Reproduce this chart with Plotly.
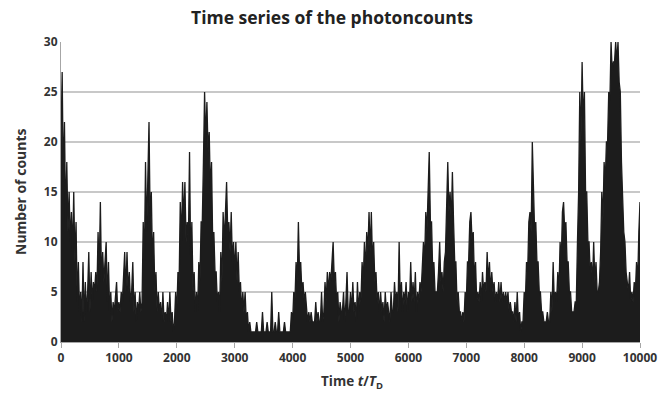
import plotly.graph_objects as go

# Photon counts sampled every 20 time units (t / T_D), one row per 500 units
step = 20
counts_rows = [
    [20, 27, 16, 22, 12, 18, 11, 15, 10, 13, 9, 15, 8, 12, 4, 8, 3, 5, 2, 8, 2, 6, 3, 5, 9],
    [3, 7, 4, 6, 5, 7, 5, 11, 7, 14, 6, 9, 6, 8, 10, 4, 8, 3, 5, 2, 4, 3, 5, 6, 3],
    [4, 3, 5, 4, 7, 9, 5, 9, 5, 7, 4, 5, 8, 3, 5, 2, 4, 3, 5, 3, 4, 12, 8, 18, 11],
    [18, 22, 12, 15, 8, 11, 5, 7, 3, 5, 3, 4, 2, 5, 2, 3, 2, 4, 2, 5, 2, 3, 1, 2, 5],
    [3, 7, 6, 14, 10, 16, 12, 16, 10, 12, 10, 19, 8, 12, 5, 7, 3, 5, 3, 8, 6, 12, 12, 18, 25],
    [20, 24, 19, 21, 15, 18, 10, 11, 7, 7, 4, 5, 3, 9, 6, 13, 10, 13, 16, 11, 12, 9, 13, 8, 10],
    [7, 10, 6, 9, 5, 6, 3, 5, 3, 5, 2, 3, 1, 2, 1, 1, 1, 1, 1, 2, 1, 1, 1, 1, 3],
    [1, 1, 1, 2, 1, 1, 1, 5, 1, 1, 2, 1, 1, 3, 1, 1, 1, 1, 2, 1, 1, 1, 1, 1, 3],
    [2, 5, 4, 8, 6, 12, 7, 8, 5, 6, 4, 5, 3, 2, 3, 2, 3, 2, 2, 2, 4, 2, 3, 2, 2],
    [5, 2, 3, 6, 4, 7, 5, 7, 6, 8, 10, 6, 7, 4, 5, 2, 4, 3, 3, 5, 2, 4, 7, 3, 3],
    [5, 3, 6, 3, 4, 2, 6, 3, 5, 4, 8, 6, 10, 7, 11, 9, 13, 9, 13, 8, 10, 6, 7, 4, 5],
    [3, 5, 3, 4, 2, 5, 3, 4, 3, 2, 5, 3, 3, 6, 4, 5, 3, 10, 4, 6, 3, 5, 4, 6, 3],
    [5, 4, 8, 4, 6, 4, 7, 3, 5, 4, 6, 5, 8, 10, 8, 13, 11, 16, 19, 12, 12, 7, 8, 5, 5],
    [5, 7, 10, 6, 7, 5, 8, 9, 15, 18, 13, 15, 12, 17, 12, 8, 8, 4, 5, 3, 3, 2, 3, 2, 5],
    [4, 8, 8, 12, 13, 10, 11, 6, 8, 4, 5, 4, 6, 4, 7, 5, 6, 5, 9, 6, 8, 5, 7, 5, 6],
    [4, 5, 4, 6, 4, 6, 4, 5, 4, 5, 4, 5, 3, 4, 3, 3, 2, 4, 2, 5, 2, 3, 1, 2, 2],
    [5, 4, 8, 7, 12, 13, 11, 20, 14, 11, 12, 8, 8, 5, 5, 3, 3, 2, 2, 2, 3, 2, 2, 5, 3],
    [8, 4, 5, 4, 7, 5, 10, 8, 13, 14, 11, 12, 8, 8, 5, 5, 3, 3, 3, 4, 4, 10, 15, 25, 20],
    [28, 22, 25, 15, 15, 10, 10, 7, 8, 6, 10, 6, 8, 5, 5, 6, 9, 15, 12, 18, 16, 20, 20, 25, 24],
    [30, 27, 28, 28, 30, 28, 30, 26, 25, 18, 15, 11, 10, 7, 6, 5, 7, 4, 5, 4, 6, 5, 8, 6, 11],
]
last_count = 14

counts = [c for row in counts_rows for c in row] + [last_count]
times = [i * step for i in range(len(counts))]

x_ticks = [0, 1000, 2000, 3000, 4000, 5000, 6000, 7000, 8000, 9000, 10000]
y_ticks = [0, 5, 10, 15, 20, 25, 30]

font_family = "Open Sans, Liberation Sans, Arial, sans-serif"

# plot-area edges in pixels
L, R, T, B = 61, 640, 42, 342
W, H = 658, 397

fig = go.Figure()
# the count trace is so dense that it reads as a dark mass down to zero
fig.add_trace(go.Scatter(
    x=times, y=counts, mode="lines",
    line=dict(color="#1c1c1c", width=1.3),
    fill="tozeroy", fillcolor="#1c1c1c",
    hoverinfo="x+y", showlegend=False,
))

fig.update_layout(
    width=W, height=H,
    margin=dict(l=L, r=W - R, t=T, b=H - B),
    paper_bgcolor="white", plot_bgcolor="white",
    font=dict(family=font_family, color="#333333"),
    showlegend=False,
)

fig.update_xaxes(
    range=[0, 10000], tickvals=x_ticks, ticktext=[f"<b>{v}</b>" for v in x_ticks],
    showgrid=False, zeroline=False, automargin=False,
    showline=True, linecolor="#a6a6a6", linewidth=1,
    ticks="outside", ticklen=5, tickcolor="#a6a6a6",
    tickfont=dict(size=12, color="#333333"),
)
fig.update_yaxes(
    range=[0, 30], tickvals=y_ticks, ticktext=[f"<b>{v}</b>" for v in y_ticks],
    showgrid=True, gridcolor="#c8c8c8", gridwidth=1.5,
    zeroline=False, showline=True, linecolor="#a6a6a6", linewidth=1,
    ticks="", automargin=False, tickfont=dict(size=12, color="#333333"),
)

title_text = "<b>Time series of the photoncounts</b>"
fig.add_annotation(
    text=title_text,
    xref="paper", yref="paper", x=(332 - L) / (R - L), y=1.0, yshift=25,
    xanchor="center", yanchor="middle", showarrow=False,
    font=dict(size=17.5, color="#222222", family=font_family),
)
fig.add_annotation(
    text="<b>Number of counts</b>",
    xref="paper", yref="paper", x=(20 - L) / (R - L), y=0.5,
    xanchor="center", yanchor="middle", textangle=-90, showarrow=False,
    font=dict(size=14, color="#333333", family=font_family),
)
fig.add_annotation(
    text="<b>Time <i>t</i>/<i>T</i><sub>D</sub></b>",
    xref="paper", yref="paper", x=(352 - L) / (R - L), y=0, yshift=-40,
    xanchor="center", yanchor="middle", showarrow=False,
    font=dict(size=13.5, color="#333333", family=font_family),
)

fig.write_html("out.html")
